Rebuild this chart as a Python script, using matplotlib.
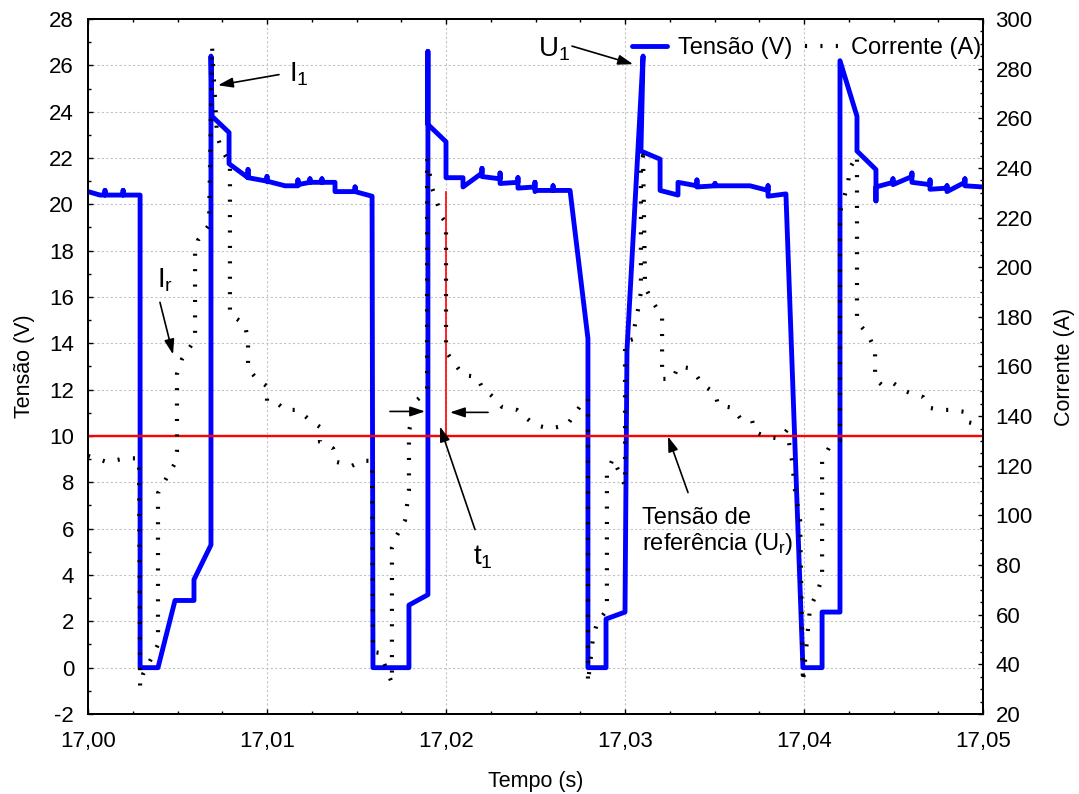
import matplotlib
matplotlib.use("Agg")
import matplotlib.pyplot as plt
from matplotlib.ticker import MultipleLocator

# ---- dados ----
# tensão (V) no tempo (s)
volt_t = [17.00000, 17.00067, 17.00095, 17.00095, 17.00095, 17.00196, 17.00196, 17.00196,
          17.00291, 17.00291, 17.00391, 17.00486, 17.00592, 17.00592, 17.00687, 17.00687,
          17.00693, 17.00788, 17.00788, 17.00894, 17.00894, 17.00894, 17.01000, 17.01000,
          17.01000, 17.01101, 17.01173, 17.01173, 17.01173, 17.01240, 17.01240, 17.01240,
          17.01307, 17.01307, 17.01307, 17.01380, 17.01380, 17.01492, 17.01492, 17.01492,
          17.01587, 17.01592,
          17.01793, 17.01793, 17.01899, 17.01899, 17.01899, 17.02000, 17.02000, 17.02095,
          17.02095, 17.02201, 17.02201, 17.02201, 17.02302, 17.02302, 17.02302, 17.02402,
          17.02402, 17.02402, 17.02497, 17.02497, 17.02497, 17.02503, 17.02598, 17.02598,
          17.02598, 17.02693, 17.02793, 17.02793,
          17.02894, 17.02894, 17.03000, 17.03011, 17.03101, 17.03089, 17.03196, 17.03196,
          17.03296, 17.03296, 17.03402, 17.03402, 17.03402, 17.03503, 17.03503, 17.03503,
          17.03698, 17.03799, 17.03799, 17.03799, 17.03899, 17.03994,
          17.04101, 17.04101, 17.04201, 17.04201, 17.04296, 17.04296, 17.04402, 17.04402,
          17.04402, 17.04497, 17.04497, 17.04497, 17.04603, 17.04603, 17.04603, 17.04704,
          17.04704, 17.04704, 17.04799, 17.04799, 17.04799, 17.04899, 17.04899, 17.04899,
          17.05000]
volt_v = [20.55, 20.40, 20.40, 20.60, 20.40, 20.40, 20.60, 20.40,
          20.40, 0.00, 0.00, 2.90, 2.90, 3.80, 5.30, 26.40,
          23.80, 23.10, 21.75, 21.15, 21.50, 21.15, 21.00, 21.20,
          21.00, 20.80, 20.80, 21.05, 20.85, 20.95, 21.10, 20.95,
          20.95, 21.10, 20.95, 20.95, 20.55, 20.55, 20.75, 20.55,
          20.35, 0.00,
          0.00, 2.70, 3.15, 26.60, 23.45, 22.70, 21.15, 21.15,
          20.75, 21.35, 21.55, 21.20, 21.10, 21.35, 20.90, 20.95,
          21.15, 20.70, 20.75, 20.95, 20.55, 20.60, 20.60, 20.80,
          20.60, 20.60, 14.20, 0.00,
          0.00, 2.10, 2.40, 13.70, 26.40, 22.30, 21.95, 20.60,
          20.40, 20.95, 20.80, 21.05, 20.75, 20.80, 20.90, 20.80,
          20.80, 20.60, 20.80, 20.35, 20.45, 0.00,
          0.00, 2.40, 2.40, 26.20, 23.80, 22.30, 21.50, 20.15,
          20.75, 20.95, 21.10, 20.85, 21.20, 21.35, 20.95, 20.85,
          21.05, 20.65, 20.70, 20.80, 20.55, 20.95, 21.10, 20.80,
          20.75]

# corrente (A) no tempo (s)
curr_t = [17.00000, 17.00106, 17.00207, 17.00285, 17.00291, 17.00307, 17.00358, 17.00391,
          17.00391, 17.00430, 17.00486, 17.00497, 17.00497, 17.00525, 17.00581, 17.00598,
          17.00598, 17.00615, 17.00676, 17.00693, 17.00721, 17.00749, 17.00793, 17.00793,
          17.00877, 17.00894, 17.00894, 17.00944, 17.01000, 17.01000, 17.01061, 17.01101,
          17.01173, 17.01229, 17.01296, 17.01296, 17.01369, 17.01391, 17.01475, 17.01531,
          17.01587, 17.01592, 17.01631, 17.01698, 17.01698, 17.01726, 17.01771, 17.01793,
          17.01793, 17.01838, 17.01894, 17.01894, 17.01922, 17.01950, 17.01978, 17.02000,
          17.02000, 17.02050, 17.02095, 17.02173, 17.02201, 17.02263, 17.02313, 17.02397,
          17.02441, 17.02497, 17.02581, 17.02676, 17.02721, 17.02777, 17.02793, 17.02793,
          17.02821, 17.02844, 17.02899, 17.02899, 17.02933, 17.03000, 17.03000, 17.03045,
          17.03056, 17.03073, 17.03089, 17.03089, 17.03101, 17.03112, 17.03156, 17.03207,
          17.03207, 17.03268, 17.03296, 17.03352, 17.03402, 17.03436, 17.03503, 17.03520,
          17.03603, 17.03642, 17.03709, 17.03726, 17.03793, 17.03866, 17.03905, 17.03933,
          17.03950, 17.03978, 17.03994, 17.04034, 17.04073, 17.04101, 17.04101, 17.04145,
          17.04201, 17.04201, 17.04246, 17.04257, 17.04296, 17.04296, 17.04352, 17.04397,
          17.04397, 17.04436, 17.04497, 17.04553, 17.04603, 17.04665, 17.04704, 17.04771,
          17.04827, 17.04899, 17.04916, 17.05000]
curr_a = [124.0, 121.5, 123.0, 123.0, 31.0, 36.0, 43.0, 48.0,
          109.0, 114.0, 121.0, 126.0, 157.0, 163.0, 169.0, 173.0,
          206.0, 211.0, 217.0, 289.0, 253.0, 247.0, 242.0, 181.0,
          177.0, 170.0, 159.0, 155.0, 152.0, 146.0, 145.0, 142.5,
          142.5, 139.0, 135.6, 129.6, 127.0, 121.5, 120.0, 122.0,
          122.0, 45.0, 44.6, 32.5, 87.0, 92.0, 98.0, 110.0,
          134.0, 146.5, 150.0, 244.0, 232.0, 226.0, 220.0, 218.0,
          166.0, 161.0, 156.6, 155.8, 151.7, 147.7, 143.7, 142.5,
          139.7, 136.4, 135.0, 136.4, 141.0, 147.0, 147.0, 32.5,
          50.6, 56.7, 62.0, 117.0, 123.0, 112.0, 170.0, 171.0,
          177.0, 183.0, 190.0, 241.0, 245.0, 192.0, 186.0, 180.0,
          155.0, 155.0, 160.0, 159.4, 156.0, 152.5, 149.3, 144.5,
          143.3, 139.3, 138.5, 133.6, 131.6, 131.0, 134.4, 122.0,
          110.0, 98.0, 32.5, 63.0, 68.7, 75.0, 122.0, 128.0,
          130.0, 222.0, 234.0, 240.0, 245.0, 178.0, 173.5, 167.0,
          155.0, 152.5, 153.4, 150.5, 149.0, 147.7, 143.3, 142.5,
          142.5, 141.7, 137.6, 136.0]

tensao_ref = 10.0          # Tensão de referência (U_r)
t1 = 17.020                # instante t1
u_final_t1 = 20.55         # topo da linha vermelha vertical

x_ticks = [17.00, 17.01, 17.02, 17.03, 17.04, 17.05]
x_tick_labels = ['17,00', '17,01', '17,02', '17,03', '17,04', '17,05']

# ---- estilo ----
plt.rcParams['font.family'] = ['Liberation Sans', 'DejaVu Sans']
plt.rcParams['mathtext.default'] = 'regular'
plt.rcParams['axes.unicode_minus'] = False

fig = plt.figure(figsize=(10.79, 7.94), dpi=100)
ax1 = fig.add_axes([0.08156, 0.10076, 0.82947, 0.87531])
ax2 = ax1.twinx()

# tensão (eixo esquerdo)
l1, = ax1.plot(volt_t, volt_v, color='#0000ff', linewidth=3.5, solid_joinstyle='round',
               solid_capstyle='round', label='Tensão (V)', zorder=2)
ax1.axhline(tensao_ref, color='#ff0000', linewidth=1.7, zorder=3)
ax1.plot([t1, t1], [tensao_ref, u_final_t1], color='#ff0000', linewidth=1.2, zorder=3)

# corrente (eixo direito)
l2, = ax2.plot(curr_t, curr_a, color='black', linewidth=3.0, linestyle=(0, (0.5, 3.2)),
               label='Corrente (A)')

ax1.set_xlim(17.0, 17.05)
ax1.set_ylim(-2, 28)
ax2.set_ylim(20, 300)

ax1.set_xticks(x_ticks)
ax1.set_xticklabels(x_tick_labels)
ax1.xaxis.set_minor_locator(MultipleLocator(0.0025))
ax1.yaxis.set_major_locator(MultipleLocator(2))
ax1.yaxis.set_minor_locator(MultipleLocator(1))
ax2.yaxis.set_major_locator(MultipleLocator(20))
ax2.yaxis.set_minor_locator(MultipleLocator(5))

ax1.tick_params(axis='x', which='both', direction='in', top=True, labelsize=16, pad=12)
ax1.tick_params(axis='y', which='both', direction='in', right=False, labelsize=16, pad=10)
ax2.tick_params(axis='y', which='both', direction='in', labelsize=16, pad=9)
for ax in (ax1, ax2):
    ax.tick_params(which='major', length=3.5, width=1)
    ax.tick_params(which='minor', length=2, width=1)
    for s in ax.spines.values():
        s.set_linewidth(1.4)

ax1.grid(True, which='major', color='#c4c4c4', linestyle=(0, (2, 2)), linewidth=0.8)

ax1.set_xlabel('Tempo (s)', fontsize=15.5, labelpad=14)
ax1.set_ylabel('Tensão (V)', fontsize=15.5, labelpad=10)
ax2.set_ylabel('Corrente (A)', fontsize=15.5, labelpad=15)

# legenda
ax2.legend([l1, l2], ['Tensão (V)', 'Corrente (A)'], loc='upper right', ncol=2,
           frameon=False, fontsize=17, handlelength=1.5, handletextpad=0.45,
           columnspacing=0.55, bbox_to_anchor=(1.022, 1.005))

# anotações
seta = dict(arrowstyle='-|>,head_length=0.9,head_width=0.3', color='black', lw=1.2,
            shrinkA=0, shrinkB=0)
ax1.annotate('', xy=(17.00726, 25.14), xytext=(17.01067, 25.6), arrowprops=seta)
ax1.text(17.01123, 25.3, 'I$_1$', fontsize=20, va='baseline', ha='left')

ax1.annotate('', xy=(17.00475, 13.52), xytext=(17.00402, 15.77), arrowprops=seta)
ax1.text(17.00385, 16.41, 'I$_r$', fontsize=20, va='baseline', ha='left')

ax1.annotate('', xy=(17.01966, 10.41), xytext=(17.02162, 5.96), arrowprops=seta)
ax1.text(17.02151, 4.45, 't$_1$', fontsize=20, va='baseline', ha='left')

ax1.annotate('', xy=(17.01883, 11.06), xytext=(17.01687, 11.06), arrowprops=seta)
ax1.annotate('', xy=(17.02022, 11.02), xytext=(17.02235, 11.02), arrowprops=seta)

ax1.annotate('', xy=(17.03045, 26.05), xytext=(17.02704, 26.83), arrowprops=seta)
ax1.text(17.02514, 26.39, 'U$_1$', fontsize=20, va='baseline', ha='left')

ax1.annotate('', xy=(17.03240, 9.98), xytext=(17.03352, 7.56), arrowprops=seta)
ax1.text(17.03095, 6.18, 'Tensão de', fontsize=17, va='baseline', ha='left')
ax1.text(17.03095, 5.10, 'referência (U$_r$)', fontsize=17, va='baseline', ha='left')

fig.savefig('out.png', dpi=100)
